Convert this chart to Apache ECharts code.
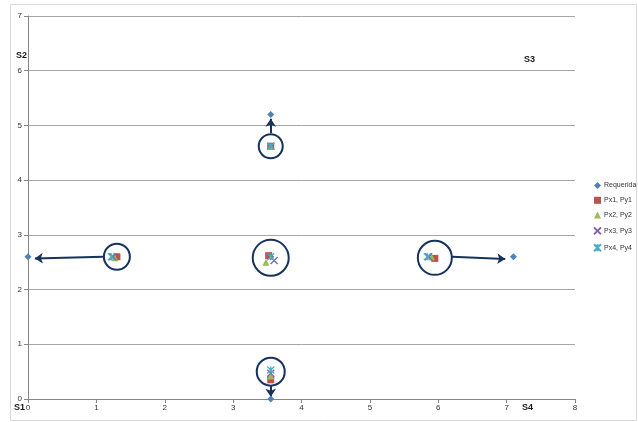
<!DOCTYPE html>
<html>
<head>
<meta charset="utf-8">
<script src="https://cdn.jsdelivr.net/npm/echarts@6/dist/echarts.min.js"></script>
<style>
  html, body { margin: 0; padding: 0; background: #fff; }
  #chart { width: 638px; height: 422px; }
</style>
</head>
<body>
<div id="chart"></div>
<script>
// Series data: [x, y]
const seriesNames = ['Requerida', 'Px1, Py1', 'Px2, Py2', 'Px3, Py3', 'Px4, Py4'];
const requerida = [[0, 2.6], [3.55, 5.2], [7.1, 2.6], [3.55, 0], [3.55, 2.6]];
const p1 = [[1.3, 2.6], [5.95, 2.57], [3.55, 4.62], [3.55, 0.35], [3.52, 2.62]];
const p2 = [[1.27, 2.58], [5.9, 2.6], [3.55, 4.62], [3.55, 0.42], [3.48, 2.5]];
const p3 = [[1.24, 2.6], [5.86, 2.6], [3.55, 4.62], [3.55, 0.47], [3.6, 2.53]];
const p4 = [[1.22, 2.6], [5.84, 2.6], [3.55, 4.62], [3.55, 0.53], [3.55, 2.6]];

// Highlight rings: [x, y, diameter]
const rings = [[1.3, 2.6, 26], [3.55, 2.58, 36], [5.95, 2.58, 34], [3.55, 4.62, 24], [3.55, 0.5, 28]];
// Displacement arrows: from -> to
const arrows = [
  [[1.1, 2.6], [0.1, 2.57]],
  [[6.2, 2.6], [6.98, 2.56]],
  [[3.55, 4.86], [3.55, 5.12]],
  [[3.55, 0.24], [3.55, 0.04]]
];

const xTicks = [0, 8, 1];
const yTicks = [0, 7, 1];

const colors = ['#4F81BD', '#C0504D', '#9BBB59', '#8064A2', '#4BACC6'];
const crossPath = 'path://M0,0L10,10M10,0L0,10';
const starPath = 'path://M0,0L10,10M10,0L0,10M5,0L5,10';
const symbols = ['diamond', 'rect', 'triangle', crossPath, starPath];
const sizes = [7, 7, 7, 7, 7];
const dataSets = [requerida, p1, p2, p3, p4];

const navy = '#17325E';

const chart = echarts.init(document.getElementById('chart'), null, { renderer: 'canvas' });

const scatterSeries = dataSets.map((d, i) => {
  const line = i >= 3;
  return {
    name: seriesNames[i],
    type: 'scatter',
    data: d,
    symbol: symbols[i],
    symbolSize: sizes[i],
    z: 5,
    itemStyle: line
      ? { color: 'transparent', borderColor: colors[i], borderWidth: 1.3, opacity: 1 }
      : { color: colors[i], opacity: 1 }
  };
});

chart.setOption({
  animation: false,
  backgroundColor: '#fff',
  grid: { left: 28, right: 63, top: 16, bottom: 23 },
  xAxis: {
    type: 'value', min: xTicks[0], max: xTicks[1], interval: xTicks[2],
    axisLine: { onZero: false, lineStyle: { color: '#868686', width: 1 } },
    axisTick: { show: true, length: 4, lineStyle: { color: '#868686' } },
    splitLine: { show: false },
    axisLabel: { fontSize: 8, color: '#333', fontFamily: 'Liberation Sans', margin: 5 }
  },
  yAxis: {
    type: 'value', min: yTicks[0], max: yTicks[1], interval: yTicks[2],
    axisLine: { show: true, lineStyle: { color: '#868686', width: 1 } },
    axisTick: { show: true, length: 4, lineStyle: { color: '#868686' } },
    splitLine: { show: true, lineStyle: { color: '#A6A6A6', width: 1 } },
    axisLabel: { fontSize: 8, color: '#333', fontFamily: 'Liberation Sans', margin: 6 }
  },
  legend: {
    orient: 'vertical', left: 588, top: 177,
    itemWidth: 7, itemHeight: 7, itemGap: 7.8,
    data: seriesNames,
    textStyle: { fontSize: 7, color: '#333', fontFamily: 'Liberation Sans', padding: [0, 0, 0, -2] }
  },
  color: colors,
  series: scatterSeries.concat([
    {
      type: 'scatter',
      data: rings.map(r => [r[0], r[1], r[2]]),
      symbol: 'circle',
      symbolSize: v => v[2],
      silent: true,
      z: 3,
      itemStyle: { color: 'transparent', borderColor: navy, borderWidth: 2, opacity: 1 }
    },
    {
      type: 'lines',
      coordinateSystem: 'cartesian2d',
      data: arrows.map(a => ({ coords: a })),
      symbol: ['none', 'arrow'],
      symbolSize: 8,
      silent: true,
      z: 3,
      lineStyle: { color: navy, width: 2, opacity: 1 }
    }
  ]),
  graphic: [
    { type: 'rect', shape: { x: 10.5, y: 4.5, width: 626, height: 416 }, style: { fill: 'none', stroke: '#D9D9D9', lineWidth: 1 }, silent: true },
    { type: 'text', left: 14, top: 403, style: { text: 'S1', font: 'bold 9px Liberation Sans', fill: '#1a1a1a' } },
    { type: 'text', left: 16, top: 51, style: { text: 'S2', font: 'bold 9px Liberation Sans', fill: '#1a1a1a' } },
    { type: 'text', left: 524, top: 55, style: { text: 'S3', font: 'bold 9px Liberation Sans', fill: '#1a1a1a' } },
    { type: 'text', left: 522, top: 403, style: { text: 'S4', font: 'bold 9px Liberation Sans', fill: '#1a1a1a' } }
  ]
});
</script>
</body>
</html>
